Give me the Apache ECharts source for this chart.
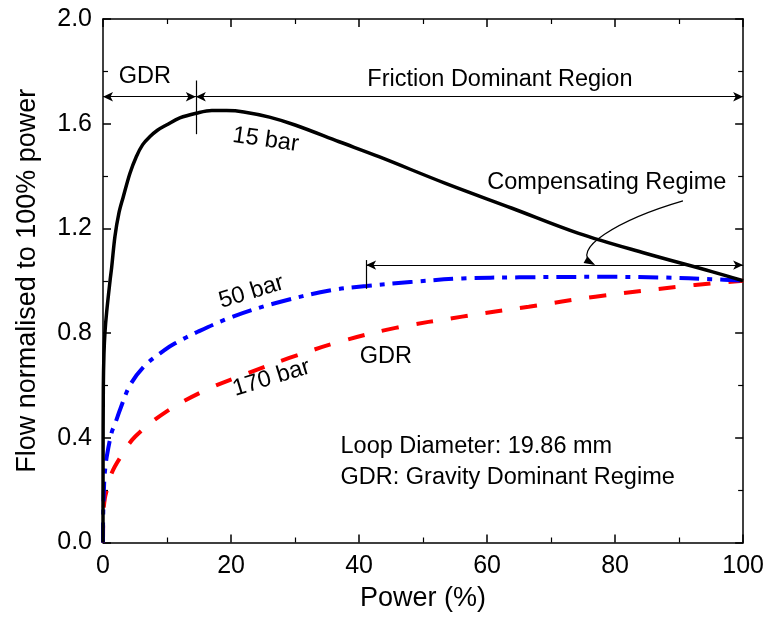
<!DOCTYPE html>
<html>
<head>
<meta charset="utf-8">
<script src="https://cdn.jsdelivr.net/npm/echarts@6/dist/echarts.min.js"></script>
<style>
html,body{margin:0;padding:0;background:#fff;}
#chart{width:767px;height:618px;}
</style>
</head>
<body>
<div id="chart"></div>
<script>
// ---- data (Power %, Flow normalised) ----
var bar15 = [[0,0],[0.01,0.3],[0.05,0.59],[0.15,0.72],[0.3,0.8],[0.57,0.88],[1.1,1.0],[1.35,1.05],[1.87,1.17],[2.5,1.26],[3.16,1.32],[4.2,1.41],[5.2,1.474],[6.2,1.52],[7.3,1.55],[8.5,1.575],[9.9,1.595],[12,1.622],[14.6,1.64],[17,1.65],[19.3,1.65],[22,1.645],[26,1.625],[30,1.595],[36.9,1.531],[43.1,1.474],[53.5,1.372],[63.9,1.277],[74.3,1.181],[84.7,1.105],[95.1,1.035],[100,1.0]];
var bar50 = [[0,0],[0.01,0.07],[0.05,0.124],[0.2,0.239],[0.3,0.27],[0.6,0.33],[1.35,0.42],[1.9,0.455],[2.7,0.51],[4.2,0.6],[6.5,0.675],[9.6,0.735],[11.2,0.76],[14.8,0.805],[20.3,0.863],[27,0.915],[35.4,0.963],[41.1,0.98],[48,0.995],[56.1,1.009],[65,1.013],[77.9,1.015],[88,1.012],[95,1.006],[100,1.0]];
var bar170 = [[0,0],[0.02,0.06],[0.05,0.11],[0.3,0.17],[0.6,0.2],[1.35,0.265],[2.65,0.323],[5,0.404],[9.9,0.5],[16.1,0.583],[22.4,0.645],[29.1,0.705],[37.4,0.77],[45.7,0.82],[56.1,0.863],[66.5,0.901],[76.9,0.939],[92.5,0.984],[100,1.0]];
var xTicks = [0,20,40,60,80,100];
var yTicks = [0,0.4,0.8,1.2,1.6,2.0];

var FONT = 'Liberation Sans, Arial, Helvetica, sans-serif';
var chart = echarts.init(document.getElementById('chart'));

var axisCommon = {
  axisLine:{show:true,onZero:false,lineStyle:{color:'#000',width:1.5}},
  axisTick:{show:true,inside:true,length:8,lineStyle:{color:'#000',width:1.5}},
  minorTick:{show:true,splitNumber:2,length:5,lineStyle:{color:'#000',width:1.2}},
  splitLine:{show:false}
};

function mk(o){ return Object.assign({}, JSON.parse(JSON.stringify(axisCommon)), o); }

var option = {
  animation:false,
  backgroundColor:'#fff',
  grid:{left:103,right:22,top:19,bottom:75.5,containLabel:false},
  xAxis:[
    mk({type:'value',position:'bottom',min:xTicks[0],max:xTicks[xTicks.length-1],interval:20,
      name:'Power (%)',nameLocation:'middle',nameGap:43,
      nameTextStyle:{fontFamily:FONT,fontSize:27,color:'#000'},
      axisLabel:{show:true,margin:11,fontFamily:FONT,fontSize:25,color:'#000',
        formatter:function(v){return xTicks.indexOf(v)>=0?String(v):'';}}}),
    mk({type:'value',position:'top',min:0,max:100,interval:20,axisLabel:{show:false}})
  ],
  yAxis:[
    mk({type:'value',position:'left',min:yTicks[0],max:yTicks[yTicks.length-1],interval:0.4,
      name:'Flow normalised to 100% power',nameLocation:'middle',nameGap:62,
      nameTextStyle:{fontFamily:FONT,fontSize:27,color:'#000'},
      axisLabel:{show:true,margin:11,fontFamily:FONT,fontSize:25,color:'#000',
        formatter:function(v){return v.toFixed(1);}}}),
    mk({type:'value',position:'right',min:0,max:2,interval:0.4,axisLabel:{show:false}})
  ],
  series:[
    {name:'15 bar',type:'line',data:bar15,showSymbol:false,smooth:0.35,
      lineStyle:{color:'#000',width:3.5},z:5,
      markLine:{silent:true,symbol:['arrow','arrow'],symbolSize:[7,10],
        lineStyle:{color:'#000',width:1.2,type:'solid'},label:{show:false},
        data:[
          [{coord:[0,1.703]},{coord:[14.5,1.703]}],
          [{coord:[14.5,1.703]},{coord:[100,1.703]}],
          [{coord:[41.1,1.060]},{coord:[100,1.060]}],
          [{coord:[14.5,1.765],symbol:'none'},{coord:[14.5,1.56],symbol:'none'}],
          [{coord:[41.1,1.079],symbol:'none'},{coord:[41.1,0.969],symbol:'none'}]
        ]}},
    {name:'50 bar',type:'line',data:bar50,showSymbol:false,smooth:0.35,
      lineStyle:{color:'#0000ff',width:4,type:[20,8,5,8]},z:4},
    {name:'170 bar',type:'line',data:bar170,showSymbol:false,smooth:0.35,
      lineStyle:{color:'#ff0000',width:4,type:[17,18]},z:3}
  ]
};
chart.setOption(option);

// annotation texts in data coordinates
var notes = [
  {t:'GDR',x:6.54,y:1.782,rot:0,align:'center'},
  {t:'Friction Dominant Region',x:62.0,y:1.767,rot:0,align:'center'},
  {t:'15 bar',x:25.4,y:1.538,rot:-8,align:'center'},
  {t:'50 bar',x:23.2,y:0.957,rot:17,align:'center'},
  {t:'170 bar',x:26.3,y:0.628,rot:17,align:'center'},
  {t:'GDR',x:44.2,y:0.709,rot:0,align:'center'},
  {t:'Compensating Regime',x:78.7,y:1.377,rot:0,align:'center'},
  {t:'Loop Diameter: 19.86 mm',x:37.1,y:0.365,rot:0,align:'left'},
  {t:'GDR: Gravity Dominant Regime',x:37.1,y:0.25,rot:0,align:'left'}
];
var curve = [[90.6,1.305],[80.5,1.233],[72.7,1.117],[76.6,1.064]];

var g = [];
notes.forEach(function(n){
  var p = chart.convertToPixel({gridIndex:0},[n.x,n.y]);
  g.push({type:'text',x:p[0],y:p[1],rotation:n.rot*Math.PI/180,z:10,
    style:{text:n.t,fontFamily:FONT,fontSize:23.5,fill:'#000',align:n.align,verticalAlign:'middle'}});
});
var cp = curve.map(function(c){return chart.convertToPixel({gridIndex:0},c);});
g.push({type:'bezierCurve',z:10,shape:{x1:cp[0][0],y1:cp[0][1],cpx1:cp[1][0],cpy1:cp[1][1],cpx2:cp[2][0],cpy2:cp[2][1],x2:cp[3][0],y2:cp[3][1]},
  style:{stroke:'#000',lineWidth:1.2,fill:null}});
// arrow head at end of curved pointer
var ex=cp[3][0], ey=cp[3][1];
var dx=cp[3][0]-cp[2][0], dy=cp[3][1]-cp[2][1], L=Math.sqrt(dx*dx+dy*dy); dx/=L; dy/=L;
var hl=9, hw=4;
g.push({type:'polygon',z:10,shape:{points:[[ex+dx*2,ey+dy*2],[ex-dx*hl-dy*hw,ey-dy*hl+dx*hw],[ex-dx*hl+dy*hw,ey-dy*hl-dx*hw]]},style:{fill:'#000'}});
chart.setOption({graphic:g});
</script>
</body>
</html>
